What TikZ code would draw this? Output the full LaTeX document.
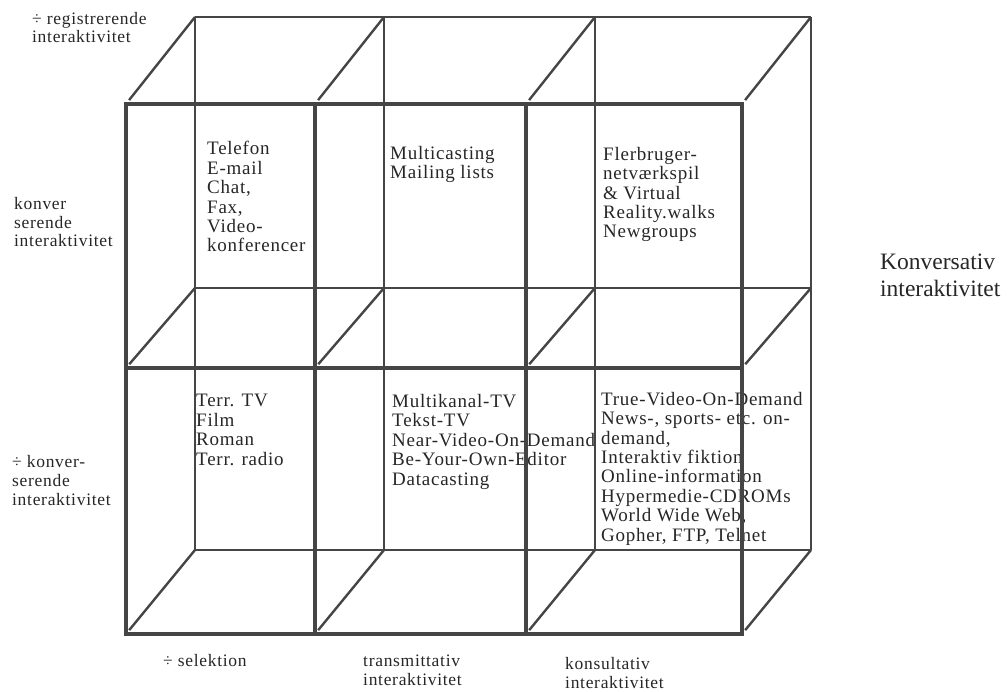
\documentclass[tikz,border=0pt]{standalone}
\usepackage{fontspec}
\setmainfont{Liberation Serif}[LetterSpace=4]
\newfontfamily\bigserif{Liberation Serif}
\definecolor{lc}{HTML}{454545}
\definecolor{tc}{HTML}{262626}
\begin{document}
\begin{tikzpicture}[x=1pt,y=-1pt,
  front/.style={line width=4pt, draw=lc},
  back/.style={line width=1.3pt, draw=lc},
  diag/.style={line width=2.4pt, draw=lc, shorten <=5pt},
  cell/.style={anchor=base west, align=left, inner sep=0pt, text=tc, font=\fontsize{19}{19.4}\selectfont},
  side/.style={cell, font=\fontsize{17.5}{18.8}\selectfont},
  big/.style={cell, font=\bigserif\fontsize{23.5}{27}\selectfont}
]
\useasboundingbox (0,0) rectangle (1008,692);
% corner coordinates
\foreach \i/\x in {0/126,1/315,2/526,3/742}
  \foreach \j/\y in {0/104,1/368,2/634}
    \coordinate (F\i\j) at (\x,\y);
\foreach \i/\x in {0/195,1/384,2/595,3/811}
  \foreach \j/\y in {0/17,1/288,2/550}
    \coordinate (B\i\j) at (\x,\y);
% texts (anchored at the baseline of their last line)
\node[cell] (c11) at (207,252) {Telefon\\E-mail\\Chat,\\Fax,\\Video-\\konferencer};
\node[cell] (c21) at (390,179) {Multicasting\\Mailing lists};
\node[cell] (c31) at (603,238) {Flerbruger-\\netværkspil\\\& Virtual\\Reality.walks\\Newgroups};
\node[cell] (c12) at (196,465) {Terr. TV\\Film\\Roman\\Terr. radio};
\node[cell] (c22) at (392,485) {Multikanal-TV\\Tekst-TV\\Near-Video-On-Demand\\Be-Your-Own-Editor\\Datacasting};
\node[cell] (c32) at (601,541) {True-Video-On-Demand\\News-, sports- etc. on-\\demand,\\Interaktiv fiktion\\Online-information\\Hypermedie-CDROMs\\World Wide Web,\\Gopher, FTP, Telnet};
\node[side] (reg) at (32,43) {÷ registrerende\\interaktivitet};
\node[side] (konv) at (14,247) {konver\\serende\\interaktivitet};
\node[side] (nkonv) at (12,505) {÷ konver-\\serende\\interaktivitet};
\node[side] (sel) at (163,666) {÷ selektion};
\node[side] (trans) at (363,685) {transmittativ\\interaktivitet};
\node[side] (kons) at (565,688) {konsultativ\\interaktivitet};
\node[big] (kv) at (880,297) {Konversativ\\interaktivitet};
% back grid
\draw[back] (B00) -- (B30) (B01) -- (B31) (B02) -- (B32)
  (B00) -- (B02) (B10) -- (B12) (B20) -- (B22) (B30) -- (B32);
% depth edges
\foreach \i in {0,1,2,3}
  \foreach \j in {0,1,2}
    \draw[diag] (F\i\j) -- (B\i\j);
% front grid
\draw[front] (F00) rectangle (F32);
\draw[front] (F01) -- (F31) (F10) -- (F12) (F20) -- (F22);
\end{tikzpicture}
\end{document}
